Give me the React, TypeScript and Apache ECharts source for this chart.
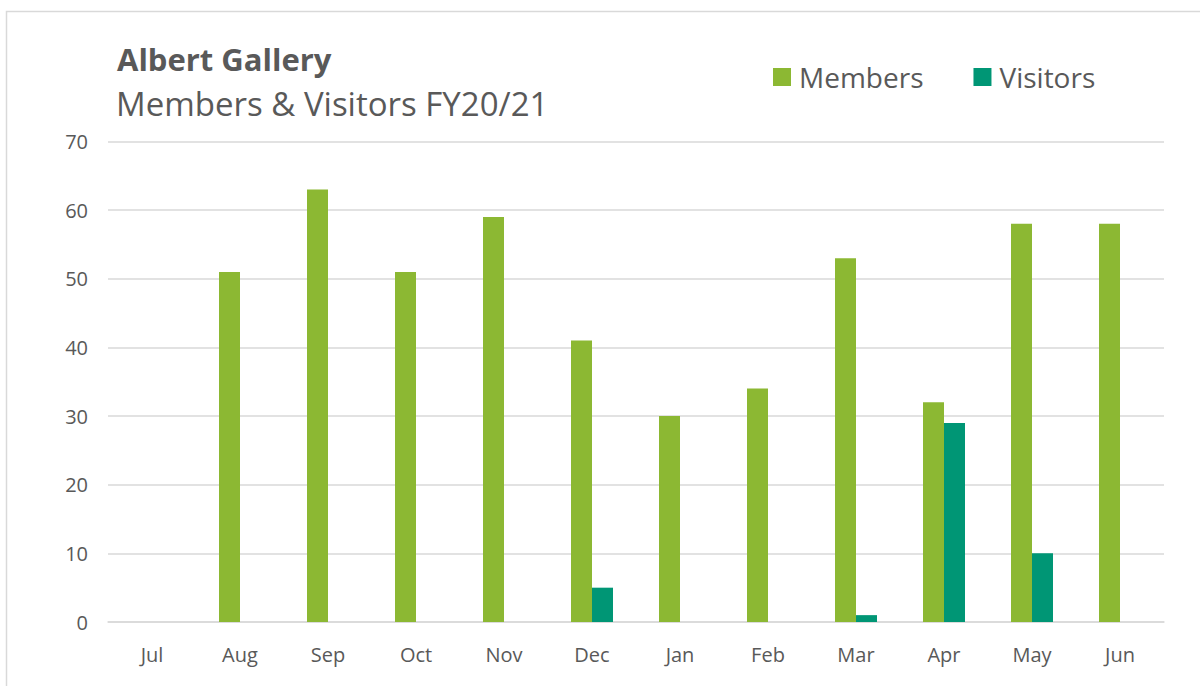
import React, { useEffect, useRef } from "react";
import * as echarts from "echarts";

const months = ["Jul", "Aug", "Sep", "Oct", "Nov", "Dec", "Jan", "Feb", "Mar", "Apr", "May", "Jun"];
const members = [0, 51, 63, 51, 59, 41, 30, 34, 53, 32, 58, 58];
const visitors = [0, 0, 0, 0, 0, 5, 0, 0, 1, 29, 10, 0];
const titleText = "Albert Gallery";
const subtitleText = "Members & Visitors FY20/21";

const FONT = "'Open Sans', 'Noto Sans', sans-serif";
const TEXT = "#595959";

export default function App() {
  const ref = useRef<HTMLDivElement>(null);
  useEffect(() => {
    if (!ref.current) return;
    const chart = echarts.init(ref.current, undefined, { renderer: "svg" });
    chart.setOption({
      animation: false,
      backgroundColor: "#ffffff",
      textStyle: { fontFamily: FONT },
      graphic: [
        {
          type: "rect",
          shape: { x: 6.5, y: 11.5, width: 1400, height: 900 },
          style: { fill: "none", stroke: "#d9d9d9", lineWidth: 1.5 },
          silent: true,
        },
        {
          type: "text",
          x: 117,
          y: 59,
          style: {
            text: titleText,
            font: `bold 31px ${FONT}`,
            fill: TEXT,
            verticalAlign: "middle",
          },
        },
        {
          type: "text",
          x: 116,
          y: 103,
          style: {
            text: subtitleText,
            font: `33px ${FONT}`,
            fill: TEXT,
            verticalAlign: "middle",
          },
        },
      ],
      legend: {
        left: 768,
        top: 58,
        itemWidth: 18,
        itemHeight: 18,
        itemGap: 50,
        icon: "rect",
        textStyle: { color: TEXT, fontSize: 28, fontFamily: FONT, padding: [0, 0, 0, 3] },
        data: ["Members", "Visitors"],
      },
      grid: { left: 108, right: 36, top: 141.5, bottom: 64, containLabel: false },
      xAxis: {
        type: "category",
        data: months,
        axisLine: { show: true, lineStyle: { color: "#d9d9d9", width: 1.5 } },
        axisTick: { show: false },
        axisLabel: { color: TEXT, fontSize: 20, margin: 22, fontFamily: FONT },
        splitLine: { show: false },
      },
      yAxis: {
        type: "value",
        min: 0,
        max: 70,
        interval: 10,
        axisLine: { show: false },
        axisTick: { show: false },
        axisLabel: { color: TEXT, fontSize: 20, margin: 20, fontFamily: FONT },
        splitLine: { lineStyle: { color: "#d9d9d9", width: 1.5 } },
      },
      series: [
        {
          name: "Members",
          type: "bar",
          data: members,
          barWidth: 21,
          barGap: "0%",
          itemStyle: { color: "#8cb833" },
        },
        {
          name: "Visitors",
          type: "bar",
          data: visitors,
          barWidth: 21,
          barGap: "0%",
          itemStyle: { color: "#009675" },
        },
      ],
    });
    return () => chart.dispose();
  }, []);
  return (
    <div style={{ position: "fixed", left: 0, top: 0, width: 1200, height: 686, overflow: "hidden" }}>
      <div ref={ref} style={{ width: 1200, height: 686 }} />
    </div>
  );
}
